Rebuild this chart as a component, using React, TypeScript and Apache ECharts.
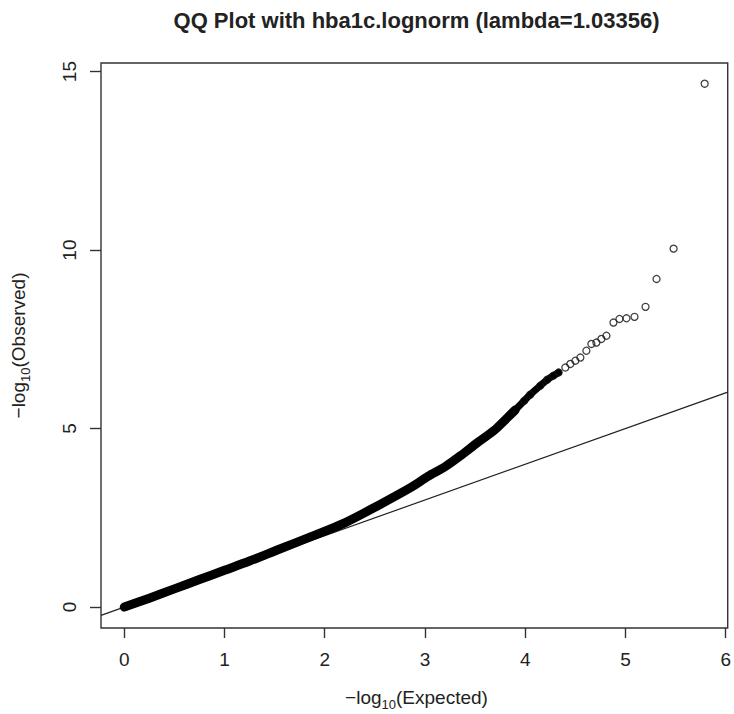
import React, { useEffect, useRef } from "react";
import * as echarts from "echarts";

// Axis ticks
const X_TICKS = [0, 1, 2, 3, 4, 5, 6];
const Y_TICKS = [0, 5, 10, 15];

// Axis extents (data range padded by 4%)
const X_MIN = -0.232;
const X_MAX = 6.02;
const Y_MIN = -0.586;
const Y_MAX = 15.24;

// Dense body of the QQ curve (-log10 expected vs -log10 observed)
const BAND_EXPECTED = [0.0, 0.25, 0.5, 0.75, 1.0, 1.25, 1.545, 1.87, 2.2, 2.53, 2.86, 3.03, 3.2, 3.36, 3.52, 3.69, 3.82, 3.9];
const BAND_OBSERVED = [0.0, 0.25, 0.51, 0.77, 1.03, 1.29, 1.62, 1.98, 2.36, 2.84, 3.35, 3.66, 3.93, 4.25, 4.6, 4.95, 5.3, 5.52];

// Thinner stretch where single points start to separate
const THIN_EXPECTED = [3.82, 3.9, 3.99, 4.05, 4.15, 4.22, 4.28, 4.333];
const THIN_OBSERVED = [5.3, 5.52, 5.78, 5.95, 6.2, 6.37, 6.48, 6.57];

// Upper tail, individual points
const TAIL_EXPECTED = [3.99, 4.05, 4.15, 4.22, 4.28, 4.333, 4.4, 4.45, 4.5, 4.55, 4.61, 4.66, 4.71, 4.76, 4.81, 4.88, 4.94, 5.01, 5.09, 5.2, 5.31, 5.48, 5.79];
const TAIL_OBSERVED = [5.78, 5.95, 6.2, 6.37, 6.48, 6.57, 6.71, 6.81, 6.9, 6.99, 7.18, 7.37, 7.41, 7.51, 7.6, 7.97, 8.07, 8.09, 8.13, 8.41, 9.19, 10.04, 14.66];

const TITLE = "QQ Plot with hba1c.lognorm (lambda=1.03356)";
const FONT = '"Liberation Sans", Arial, sans-serif';
const INK = "#222";

const zip = (xs: number[], ys: number[]) => xs.map((x, i) => [x, ys[i]]);

export default function App() {
  const ref = useRef<HTMLDivElement>(null);

  useEffect(() => {
    if (!ref.current) return;
    const chart = echarts.init(ref.current, null, { renderer: "svg" });

    const gridLeft = 101;
    const gridTop = 63;
    const gridRight = 2;
    const gridBottom = 86;
    const plotCenterX = gridLeft + (734 - gridLeft - gridRight) / 2;
    const plotCenterY = gridTop + (714 - gridTop - gridBottom) / 2;

    const richLabel = (after: string) => ({
      text: `{m|−log}{s|10}{m|${after}}`,
      rich: {
        m: { fontSize: 19, fontFamily: FONT, fill: INK, verticalAlign: "top", lineHeight: 22 },
        s: { fontSize: 13, fontFamily: FONT, fill: INK, verticalAlign: "top", lineHeight: 14, padding: [10, 0, 0, 0] },
      },
    });

    chart.setOption({
      animation: false,
      backgroundColor: "#fff",
      grid: {
        left: gridLeft,
        top: gridTop,
        right: gridRight,
        bottom: gridBottom,
        show: true,
        borderColor: "#333",
        borderWidth: 1.4,
        backgroundColor: "transparent",
      },
      xAxis: {
        type: "value",
        min: X_MIN,
        max: X_MAX,
        splitLine: { show: false },
        axisLine: { show: false, onZero: false },
        axisTick: {
          show: true,
          length: 10,
          customValues: X_TICKS,
          lineStyle: { color: "#333", width: 1.4 },
        },
        axisLabel: {
          customValues: X_TICKS,
          margin: 22,
          fontSize: 19,
          fontFamily: FONT,
          color: INK,
          formatter: (v: number) => String(v),
        },
      },
      yAxis: {
        type: "value",
        min: Y_MIN,
        max: Y_MAX,
        splitLine: { show: false },
        axisLine: { show: false, onZero: false },
        axisTick: {
          show: true,
          length: 11,
          customValues: Y_TICKS,
          lineStyle: { color: "#333", width: 1.4 },
        },
        axisLabel: {
          customValues: Y_TICKS,
          rotate: 90,
          margin: 22,
          fontSize: 19,
          fontFamily: FONT,
          color: INK,
          formatter: (v: number) => String(v),
        },
      },
      graphic: [
        {
          type: "text",
          x: plotCenterX,
          y: 20,
          style: {
            text: TITLE,
            fontSize: 22,
            fontWeight: "bold",
            fontFamily: FONT,
            fill: INK,
            textAlign: "center",
            textVerticalAlign: "middle",
          },
        },
        {
          type: "text",
          x: plotCenterX,
          y: 688,
          style: { ...richLabel("(Expected)"), textAlign: "center" },
        },
        {
          type: "text",
          x: 9,
          y: plotCenterY,
          rotation: Math.PI / 2,
          style: { ...richLabel("(Observed)"), textAlign: "center" },
        },
      ],
      series: [
        {
          type: "line",
          data: [
            [X_MIN, X_MIN],
            [X_MAX, X_MAX],
          ],
          showSymbol: false,
          symbol: "none",
          lineStyle: { color: "#222", width: 1.2 },
          silent: true,
          z: 2,
        },
        {
          type: "line",
          data: zip(BAND_EXPECTED, BAND_OBSERVED),
          symbol: "none",
          smooth: 0.3,
          lineStyle: { color: "#000", width: 9, cap: "round", join: "round" },
          silent: true,
          z: 3,
        },
        {
          type: "line",
          data: zip(THIN_EXPECTED, THIN_OBSERVED),
          symbol: "none",
          smooth: 0.3,
          lineStyle: { color: "#000", width: 7, cap: "round", join: "round" },
          silent: true,
          z: 3,
        },
        {
          type: "scatter",
          data: zip(TAIL_EXPECTED, TAIL_OBSERVED),
          symbol: "circle",
          symbolSize: 7,
          itemStyle: { color: "rgba(0,0,0,0)", borderColor: "#111", borderWidth: 1.3 },
          silent: true,
          z: 4,
        },
      ],
    });

    return () => chart.dispose();
  }, []);

  return (
    <div
      ref={ref}
      style={{ position: "fixed", left: 0, top: 0, width: 734, height: 714, background: "#fff" }}
    />
  );
}
